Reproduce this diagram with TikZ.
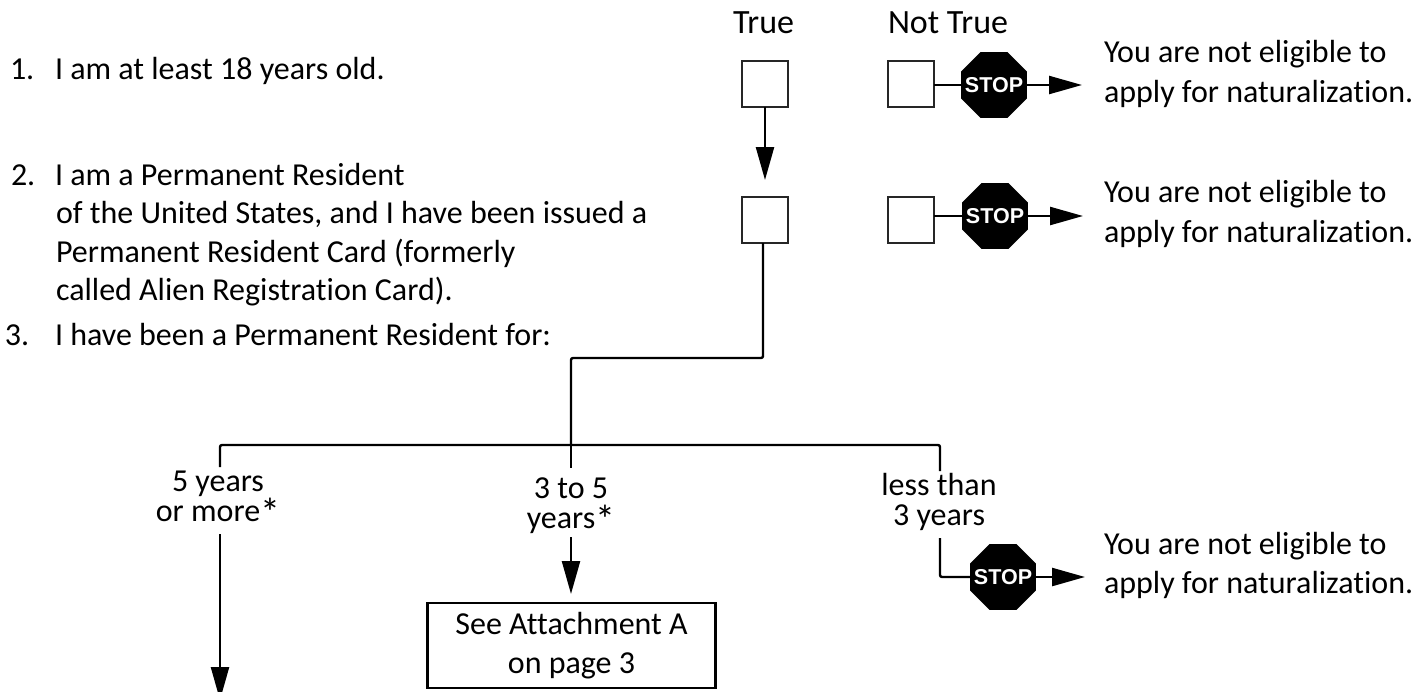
\documentclass[tikz,border=0pt]{standalone}
\usepackage{fontspec}
\setmainfont{Carlito}[Ligatures=NoCommon,RawFeature={-liga;-dlig;-clig}]
\newfontfamily\stopfont{Liberation Sans}
\usetikzlibrary{arrows.meta,shapes.geometric}
\newcommand{\stoptext}{\smash{\raisebox{-7.7pt}{\makebox[0pt]{STOP}}}}
\newcommand{\bigast}{\smash{\raisebox{-5pt}{\fontsize{40}{29.5}\selectfont *}}}
\tikzset{
 x=1pt,y=-1pt,
 every path/.style={line width=2.4pt},
 lab/.style={inner sep=0pt,outer sep=0pt,anchor=base west,font=\fontsize{32}{39}\selectfont},
 head/.style={inner sep=0pt,outer sep=0pt,anchor=base west,font=\fontsize{34}{39}\selectfont},
 clab/.style={inner sep=0pt,outer sep=0pt,align=center,anchor=base,font=\fontsize{32}{29.5}\selectfont},
 chk/.style={draw=black!85,line width=2.2pt,minimum size=46pt,inner sep=0pt,outer sep=0pt},
 stopsign/.style={regular polygon,regular polygon sides=8,fill=black,draw=none,minimum size=71pt,inner sep=0pt,outer sep=0pt,text=white,font=\stopfont\bfseries\fontsize{21.5}{21.5}\selectfont},
 arr/.style={-{Triangle[length=33pt,width=18pt]},line width=2.4pt},
 plain/.style={line width=2.4pt,rounded corners=2pt},
}
\begin{document}
\begin{tikzpicture}
\useasboundingbox (0,0) rectangle (1424,691);
% column heads
\node[head] (ht) at (733,33) {True};
\node[head] (hn) at (888,33) {Not True};
% statements
\node[lab] (n1) at (10,79) {1.};
\node[lab] (s1) at (55,79) {I am at least 18 years old.};
\node[lab] (n2) at (11,185) {2.};
\node[lab] (s2a) at (55,185) {I am a Permanent Resident};
\node[lab] (s2b) at (56,223) {of the United States, and I have been issued a};
\node[lab] (s2c) at (56,262) {Permanent Resident Card (formerly};
\node[lab] (s2d) at (56,300) {called Alien Registration Card).};
\node[lab] (n3) at (5,345) {3.};
\node[lab] (s3) at (55,345) {I have been a Permanent Resident for:};
% boxes
\node[chk] (t1) at (765,84) {};
\node[chk] (t2) at (765,220) {};
\node[chk] (f1) at (911,84) {};
\node[chk] (f2) at (911,220) {};
\node[stopsign] (st1) at (994,85) {\stoptext};
\node[stopsign] (st2) at (995,216) {\stoptext};
\node[stopsign] (st3) at (1003,577) {\stoptext};
% messages
\node[lab] (m1a) at (1104,62) {You are not eligible to};
\node[lab] (m1b) at (1104,102) {apply for naturalization.};
\node[lab] (m2a) at (1104,202) {You are not eligible to};
\node[lab] (m2b) at (1104,242) {apply for naturalization.};
\node[lab] (m3a) at (1104,554) {You are not eligible to};
\node[lab] (m3b) at (1104,593) {apply for naturalization.};
% branch labels
\node[clab] (y5) at (218,521) {5 years\\or more\bigast};
\node[clab] (y3) at (571,528) {3 to 5\\years\bigast};
\node[clab] (yl) at (939,525) {less than\\3 years};
\node[draw,line width=2.2pt,minimum width=288pt,minimum height=85pt,inner sep=0pt,align=center,font=\fontsize{32}{39}\selectfont] (att) at (571.5,645.5) {See Attachment A\\on page 3};
% free ends
\coordinate (o1) at (f1.east |- st1.west);
\coordinate (o2) at (f2.east |- st2.west);
\coordinate (tipt) at (765,180);
\coordinate (tipm1) at (1082,85);
\coordinate (tipm2) at (1083,216);
\coordinate (tipm3) at (1085,577);
\coordinate (j1) at (763,358);
\coordinate (j2) at (571,358);
\coordinate (bar) at (571,445);
\coordinate (barl) at (220,445);
\coordinate (barr) at (940,445);
\coordinate (e5) at (220,467);
\coordinate (e3) at (571,468);
\coordinate (el) at (940,471);
\coordinate (b5) at (220,534);
\coordinate (tipdown) at (220,700);
\coordinate (b3) at (571,537);
\coordinate (tip3) at (571,594);
\coordinate (bl) at (940,538);
% connectors
\draw[arr] (t1.south) -- (tipt);
\draw[plain] (o1) -- (st1.west);
\draw[plain] (o2) -- (st2.west);
\draw[arr] (st1.east) -- (tipm1);
\draw[arr] (st2.east) -- (tipm2);
\draw[arr] (st3.east) -- (tipm3);
\draw[plain] (t2.south -| j1) -- (j1) -- (j2) -- (bar);
\draw[plain] (e5) -- (barl) -- (barr) -- (el);
\draw[plain] (bar) -- (e3);
\draw[arr] (b5) -- (tipdown);
\draw[arr] (b3) -- (tip3);
\draw[plain] (bl) |- (st3.west);
\end{tikzpicture}
\end{document}
